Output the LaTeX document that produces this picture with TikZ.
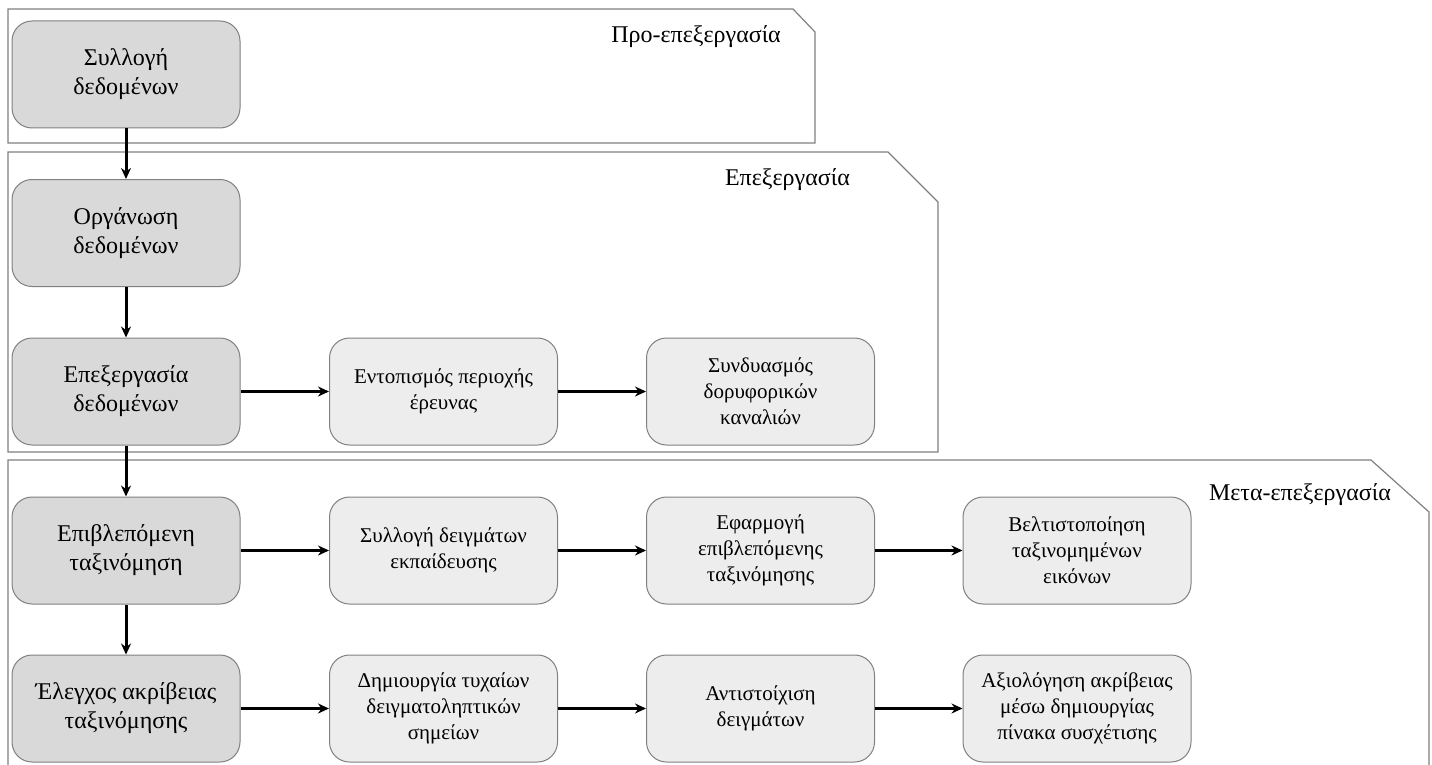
\documentclass[tikz,border=0pt]{standalone}
\usepackage{fontspec}
\setmainfont{Liberation Serif}
\usetikzlibrary{arrows.meta}
\usetikzlibrary{positioning}

\definecolor{framegray}{HTML}{808080}
\definecolor{darkfill}{HTML}{D9D9D9}
\definecolor{lightfill}{HTML}{EDEDED}

\begin{document}
\begin{tikzpicture}[x=1pt, y=-1pt,
  mainstep/.style={draw=framegray, line width=1pt, fill=darkfill, rounded corners=20pt,
    minimum width=228pt, minimum height=107pt, align=center, inner sep=0pt,
    font=\fontsize{24}{29}\selectfont},
  substep/.style={mainstep, fill=lightfill, font=\fontsize{21}{26}\selectfont},
  stage/.style={draw=framegray, line width=1.2pt},
  stagelabel/.style={anchor=base east, inner sep=0pt, font=\fontsize{24}{29}\selectfont},
  >={Stealth[length=11pt,width=10pt]}, flow/.style={->, line width=3pt}]

\clip (0,0) rectangle (1432,765);

% stages
\draw[stage] (8,143) -- (8,9) -- (793,9) -- (815,32) -- (815,143) -- cycle;
\draw[stage] (8,452) -- (8,152) -- (888,152) -- (938,202) -- (938,452) -- cycle;
\draw[stage] (8,790) -- (8,460) -- (1371,460) -- (1429,512) -- (1429,790);

\node[stagelabel] (l1) at (781,43) {Προ-επεξεργασία};
\node[stagelabel] (l2) at (850,185) {Επεξεργασία};
\node[stagelabel] (l3) at (1391,500) {Μετα-επεξεργασία};

% main column
\node[mainstep] (s1) at (126,74.5) {Συλλογή\\δεδομένων};
\node[mainstep] (s2) at (126,233) {Οργάνωση\\δεδομένων};
\node[mainstep] (s3) at (126,391.5) {Επεξεργασία\\δεδομένων};
\node[mainstep] (s4) at (126,550.5) {Επιβλεπόμενη\\ταξινόμηση};
\node[mainstep] (s5) at (126,708.5) {Έλεγχος ακρίβειας\\ταξινόμησης};

% sub steps
\node[substep] (s31) at (443.5,391.5) {Εντοπισμός περιοχής\\έρευνας};
\node[substep] (s32) at (760.5,391.5) {Συνδυασμός\\δορυφορικών\\καναλιών};

\node[substep] (s41) at (443.5,550.5) {Συλλογή δειγμάτων\\εκπαίδευσης};
\node[substep] (s42) at (760.5,550.5) {Εφαρμογή\\επιβλεπόμενης\\ταξινόμησης};
\node[substep] (s43) at (1077,550.5) {Βελτιστοποίηση\\ταξινομημένων\\εικόνων};

\node[substep] (s51) at (443.5,708.5) {Δημιουργία τυχαίων\\δειγματοληπτικών\\σημείων};
\node[substep] (s52) at (760.5,708.5) {Αντιστοίχιση\\δειγμάτων};
\node[substep] (s53) at (1077,708.5) {Αξιολόγηση ακρίβειας\\μέσω δημιουργίας\\πίνακα συσχέτισης};

\draw[flow] (s1) -- (s2);
\draw[flow] (s2) -- (s3);
\draw[flow] (s3) -- (s4);
\draw[flow] (s4) -- (s5);

\draw[flow] (s3) -- (s31);
\draw[flow] (s31) -- (s32);
\draw[flow] (s4) -- (s41);
\draw[flow] (s41) -- (s42);
\draw[flow] (s42) -- (s43);
\draw[flow] (s5) -- (s51);
\draw[flow] (s51) -- (s52);
\draw[flow] (s52) -- (s53);
\end{tikzpicture}
\end{document}
